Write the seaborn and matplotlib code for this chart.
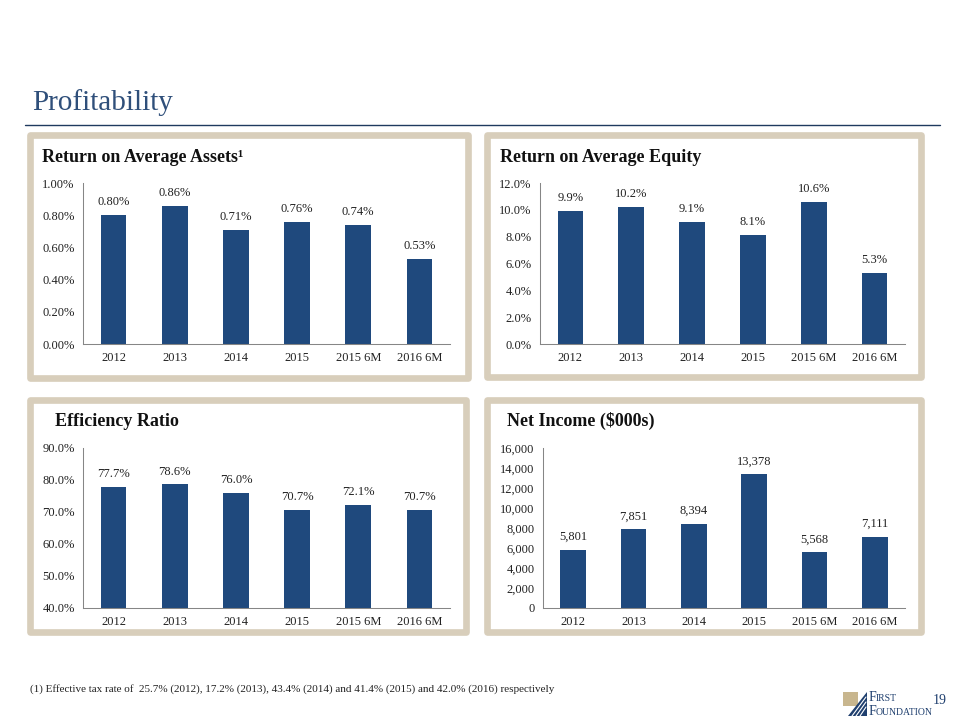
import numpy as np
import matplotlib
matplotlib.use('Agg')
import matplotlib.pyplot as plt
import matplotlib.patches as mpatches
from matplotlib.ticker import FuncFormatter, FixedLocator
import seaborn as sns

categories = ['2012', '2013', '2014', '2015', '2015 6M', '2016 6M']
roa = [0.80, 0.86, 0.71, 0.76, 0.74, 0.53]
roe = [9.9, 10.2, 9.1, 8.1, 10.6, 5.3]
efficiency = [77.7, 78.6, 76.0, 70.7, 72.1, 70.7]
net_income = [5801, 7851, 8394, 13378, 5568, 7111]

footnote = ('(1) Effective tax rate of  25.7% (2012), 17.2% (2013), 43.4% (2014) '
            'and 41.4% (2015) and 42.0% (2016) respectively')

BAR = '#1F497D'
NAVY = '#2F4F7A'
TAN = '#D8CEBB'
AXIS = '#868686'
TXT = '#222222'
W, H = 960, 720

sns.set_style('white')
plt.rcParams['font.family'] = ['Liberation Serif', 'DejaVu Serif']

fig = plt.figure(figsize=(9.6, 7.2), dpi=100)


def fx(x):
    return x / W


def fy(y):
    return 1 - y / H


def frame(x0, y0, x1, y1):
    r = mpatches.Rectangle((fx(x0), fy(y1)), fx(x1 - x0), (y1 - y0) / H,
                           transform=fig.transFigure, facecolor='none',
                           edgecolor=TAN, lw=4.8, joinstyle='round')
    fig.patches.append(r)


def panel(rect_px, values, ticks, fmt, labels, title, title_xy):
    x0, y0, x1, y1 = rect_px
    ax = fig.add_axes([fx(x0), fy(y1), fx(x1 - x0), (y1 - y0) / H])
    sns.barplot(x=categories, y=values, color=BAR, saturation=1, width=0.42,
                linewidth=0, ax=ax)
    ax.set_ylim(ticks[0], ticks[-1])
    ax.yaxis.set_major_locator(FixedLocator(ticks))
    ax.yaxis.set_major_formatter(FuncFormatter(fmt))
    ax.set_xlim(-0.5, len(categories) - 0.5)
    ax.set_xticks(np.arange(len(categories) + 1) - 0.5, minor=True)
    ax.tick_params(axis='x', which='major', length=0, pad=6, labelsize=9, colors=TXT)
    ax.tick_params(axis='x', which='minor', length=4, direction='out', color=AXIS, width=0.75)
    ax.tick_params(axis='y', length=4, direction='out', color=AXIS, width=0.75,
                   labelsize=9, colors=TXT, pad=2)
    for side in ['top', 'right']:
        ax.spines[side].set_visible(False)
    for side in ['left', 'bottom']:
        ax.spines[side].set_color(AXIS)
        ax.spines[side].set_linewidth(0.75)
    ax.set_xlabel('')
    ax.set_ylabel('')
    ax.bar_label(ax.containers[0], labels=labels, padding=5, fontsize=9, color=TXT)
    fig.text(fx(title_xy[0]), fy(title_xy[1]), title, fontsize=13, fontweight='bold',
             color='#111111', va='baseline', ha='left')
    return ax


# page title and rule
fig.text(fx(32), fy(110), 'Profitability', fontsize=21, color=NAVY, va='baseline')
fig.add_artist(plt.Line2D([fx(25), fx(940)], [fy(125), fy(125)], color='#1F3A5F', lw=1,
                          transform=fig.transFigure))

# frames
frame(30, 135, 468, 378)
frame(487, 135, 921, 377)
frame(30, 400, 466, 632)
frame(487, 400, 921, 632)

panel((83, 183, 450, 344), roa, [0, 0.2, 0.4, 0.6, 0.8, 1.0],
      lambda v, p: f'{v:.2f}%', [f'{v:.2f}%' for v in roa],
      'Return on Average Assets\u00b9', (42, 162))
panel((540, 183, 905, 344), roe, [0, 2, 4, 6, 8, 10, 12],
      lambda v, p: f'{v:.1f}%', [f'{v:.1f}%' for v in roe],
      'Return on Average Equity', (500, 162))
panel((83, 448, 450, 608), efficiency, [40, 50, 60, 70, 80, 90],
      lambda v, p: f'{v:.1f}%', [f'{v:.1f}%' for v in efficiency],
      'Efficiency Ratio', (55, 426))
panel((543, 448, 905, 608), net_income, list(range(0, 16001, 2000)),
      lambda v, p: f'{v:,.0f}', [f'{v:,}' for v in net_income],
      'Net Income (\\$000s)', (507, 426))

# footnote
fig.text(fx(30), fy(692), footnote, fontsize=8, color=TXT, va='baseline')

# logo and page number
fig.patches.append(mpatches.Rectangle((fx(843), fy(706)), fx(15), 14 / H, transform=fig.transFigure,
                                      facecolor='#C8B68E', edgecolor='none'))
fig.patches.append(mpatches.Polygon([(fx(848), fy(716)), (fx(867), fy(692)), (fx(867), fy(716))],
                                    closed=True, transform=fig.transFigure,
                                    facecolor='#1F3F6E', edgecolor='none'))
for k in range(3):
    fig.add_artist(plt.Line2D([fx(852 + 4 * k), fx(866)], [fy(716), fy(697 + 5 * k)],
                              color='white', lw=0.8, transform=fig.transFigure))
fig.text(fx(869), fy(701), 'F', fontsize=10, color='#1F3F6E', va='baseline')
fig.text(fx(876), fy(701), 'IRST', fontsize=7, color='#1F3F6E', va='baseline')
fig.text(fx(869), fy(715), 'F', fontsize=10, color='#1F3F6E', va='baseline')
fig.text(fx(876), fy(715), 'OUNDATION', fontsize=7, color='#1F3F6E', va='baseline')
fig.text(fx(940), fy(704), '19', fontsize=10, color='#1F3F6E', va='baseline', ha='center')

fig.savefig('out.png', dpi=100, facecolor='white')
